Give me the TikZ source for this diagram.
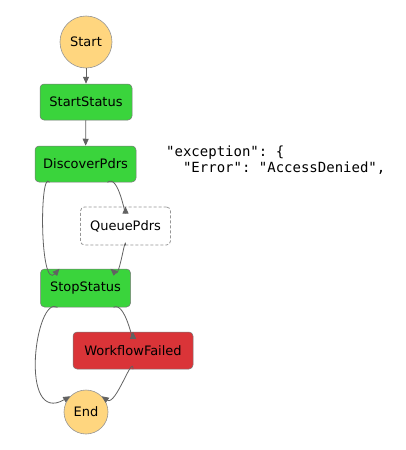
\documentclass[tikz,border=0pt]{standalone}
\usepackage{fontspec}
\setmainfont{DejaVu Sans}
\setmonofont{DejaVu Sans Mono}
\usetikzlibrary{arrows.meta,calc}
\definecolor{cyel}{RGB}{255,214,127}
\definecolor{cgreen}{RGB}{58,212,60}
\definecolor{cred}{RGB}{218,52,56}
\definecolor{cedge}{RGB}{98,98,98}
\definecolor{cborder}{RGB}{150,150,150}
\begin{document}
\begin{tikzpicture}[x=1pt,y=-1pt,
  every node/.style={font=\fontsize{13}{15}\selectfont, text=black},
  term/.style={circle, draw=cborder, line width=0.6pt, fill=cyel, inner sep=0pt},
  task/.style={rectangle, rounded corners=4pt, draw=cborder!80!black, line width=0.5pt, fill=cgreen, inner sep=0pt},
  fail/.style={rectangle, rounded corners=4pt, draw=cborder!80!black, line width=0.5pt, fill=cred, inner sep=0pt},
  skip/.style={rectangle, rounded corners=4pt, draw=cborder, dashed, dash pattern=on 3pt off 2pt, line width=0.8pt, fill=white, inner sep=0pt},
  edge/.style={draw=cedge, line width=0.8pt, -{Triangle[width=6pt,length=7pt]}},
  code/.style={font=\ttfamily\fontsize{14}{16}\selectfont, anchor=base west, inner sep=0pt}
]
\useasboundingbox (0,0) rectangle (405,450);
\fill[white] (0,0) rectangle (405,450);

\node[term, minimum size=52pt] (start) at (86,42) {Start};
\node[task, minimum width=92pt, minimum height=36pt] (ss) at (86,102) {StartStatus};
\node[task, minimum width=101pt, minimum height=36pt] (disc) at (85.5,164) {DiscoverPdrs};
\node[skip, minimum width=90pt, minimum height=38pt] (queue) at (125.5,226) {QueuePdrs};
\node[task, minimum width=90pt, minimum height=38pt] (stop) at (85.5,288) {StopStatus};
\node[fail, minimum width=120pt, minimum height=37pt] (wf) at (133,350.5) {WorkflowFailed};
\node[term, minimum size=44pt] (end) at (86,412) {End};

\node[code] (l1) at (166,156) {"exception": \{};
\node[code] (l2) at (166,172) {\ \ "Error": "AccessDenied",};

\draw[edge] (start) -- (ss);
\draw[edge] (ss) -- (disc);
\draw[edge] ([xshift=22pt]disc.south) .. controls ([xshift=33pt,yshift=9pt]disc.south) and ([yshift=-11pt]queue.north) .. (queue.north);
\draw[edge] ([xshift=-36pt]disc.south) .. controls ([xshift=-46pt,yshift=14pt]disc.south) and ([xshift=-46pt,yshift=-22pt]stop.north) .. ([xshift=-26pt]stop.north);
\draw[edge] (queue.south) .. controls ([yshift=12pt]queue.south) and ([xshift=34pt,yshift=-8pt]stop.north) .. ([xshift=25pt]stop.north);
\draw[edge] ([xshift=28pt]stop.south) .. controls ([xshift=40pt,yshift=6pt]stop.south) and ([yshift=-12pt]wf.north) .. (wf.north);
\draw[edge] ([xshift=-28pt]stop.south) .. controls ([xshift=-50pt,yshift=13pt]stop.south) and ([xshift=-52pt,yshift=-30pt]end.135) .. (end.135);
\draw[edge] (wf.south) .. controls ([yshift=16pt]wf.south) and ([xshift=14pt,yshift=-10pt]end.45) .. (end.45);
\end{tikzpicture}
\end{document}
